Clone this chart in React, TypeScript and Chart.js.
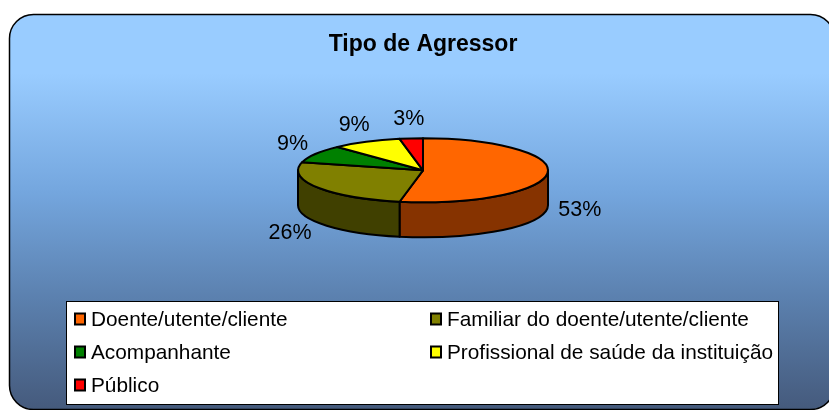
import { useEffect, useRef } from "react";
import { Chart, registerables } from "chart.js";

Chart.register(...registerables);

const chartTitle = "Tipo de Agressor";
const categories = [
  "Doente/utente/cliente",
  "Familiar do doente/utente/cliente",
  "Acompanhante",
  "Profissional de saúde da instituição",
  "Público",
];
const values = [53, 26, 9, 9, 3];
const topColors = ["#FF6600", "#808000", "#008000", "#FFFF00", "#FF0000"];
const sideColors = ["#863300", "#404000", "#004000", "#808000", "#800000"];

const FONT = '"Liberation Sans", Arial, Helvetica, sans-serif';
const TILT = 0.256;
const DEPTH = 0.28;

function roundRect(ctx: CanvasRenderingContext2D, x: number, y: number, w: number, h: number, r: number) {
  ctx.beginPath();
  ctx.moveTo(x + r, y);
  ctx.lineTo(x + w - r, y);
  ctx.arcTo(x + w, y, x + w, y + r, r);
  ctx.lineTo(x + w, y + h - r);
  ctx.arcTo(x + w, y + h, x + w - r, y + h, r);
  ctx.lineTo(x + r, y + h);
  ctx.arcTo(x, y + h, x, y + h - r, r);
  ctx.lineTo(x, y + r);
  ctx.arcTo(x, y, x + r, y, r);
  ctx.closePath();
}

const framePlugin = {
  id: "frame3d",
  beforeDraw(chart: any) {
    const ctx = chart.ctx as CanvasRenderingContext2D;
    ctx.save();
    const g = ctx.createLinearGradient(0, 14, 0, 410);
    g.addColorStop(0, "#99CCFF");
    g.addColorStop(0.15, "#99CCFF");
    g.addColorStop(0.45, "#74A6DE");
    g.addColorStop(0.72, "#5B80AE");
    g.addColorStop(1, "#455A7C");
    roundRect(ctx, 9.5, 14.5, 825, 395, 24);
    ctx.fillStyle = g;
    ctx.fill();
    ctx.lineWidth = 1.5;
    ctx.strokeStyle = "#000";
    ctx.stroke();
    ctx.restore();
  },
};

function geom(chart: any) {
  const arcs = chart.getDatasetMeta(0).data as any[];
  const a0 = arcs[0];
  const R = a0.outerRadius;
  const depth = R * DEPTH;
  const T = R * TILT;
  const cx = a0.x;
  const cy = a0.y - depth / 2;
  return { arcs, R, depth, T, cx, cy };
}

function drawLabels(chart: any) {
  const ctx = chart.ctx as CanvasRenderingContext2D;
  const { arcs, R, depth, T, cx, cy } = geom(chart);
  const data = chart.data.datasets[0].data as number[];
  const total = data.reduce((a, b) => a + b, 0);
  ctx.save();
  ctx.font = `21.5px ${FONT}`;
  ctx.fillStyle = "#000";
  ctx.textAlign = "center";
  ctx.textBaseline = "middle";
  arcs.forEach((arc: any, i: number) => {
    const m = (arc.startAngle + arc.endAngle) / 2;
    const c = Math.cos(m);
    const s = Math.sin(m);
    const ex = cx + R * c;
    const ey = cy + T * s + (s > 0 ? depth : 0);
    const txt = Math.round((data[i] / total) * 100) + "%";
    const w = ctx.measureText(txt).width;
    const gap = 9;
    const lx = ex + c * (w / 2 + gap + 2);
    const ly = ey + s * (10 + gap);
    ctx.fillText(txt, lx, ly);
  });
  ctx.restore();
}

const pie3dPlugin = {
  id: "pie3d",
  beforeDatasetsDraw(chart: any) {
    const ctx = chart.ctx as CanvasRenderingContext2D;
    const { arcs, R, depth, T, cx, cy } = geom(chart);
    ctx.save();
    ctx.lineWidth = 2;
    ctx.strokeStyle = "#000";
    ctx.lineJoin = "round";
    arcs.forEach((arc: any, i: number) => {
      const s = Math.max(arc.startAngle, 0);
      const e = Math.min(arc.endAngle, Math.PI);
      if (e > s) {
        ctx.beginPath();
        ctx.ellipse(cx, cy, R, T, 0, s, e);
        ctx.lineTo(cx + R * Math.cos(e), cy + T * Math.sin(e) + depth);
        ctx.ellipse(cx, cy + depth, R, T, 0, e, s, true);
        ctx.closePath();
        ctx.fillStyle = sideColors[i];
        ctx.fill();
        ctx.stroke();
      }
    });
    arcs.forEach((arc: any, i: number) => {
      ctx.beginPath();
      ctx.moveTo(cx, cy);
      ctx.ellipse(cx, cy, R, T, 0, arc.startAngle, arc.endAngle);
      ctx.closePath();
      ctx.fillStyle = topColors[i];
      ctx.fill();
      ctx.stroke();
    });
    ctx.restore();
    drawLabels(chart);
    return false;
  },
};

const legendPlugin = {
  id: "legendBox",
  afterDraw(chart: any) {
    const ctx = chart.ctx as CanvasRenderingContext2D;
    const labels = chart.data.labels as string[];
    ctx.save();
    ctx.fillStyle = "#fff";
    ctx.fillRect(66.5, 301.5, 712, 103);
    ctx.lineWidth = 1;
    ctx.strokeStyle = "#000";
    ctx.strokeRect(66.5, 301.5, 712, 103);
    ctx.font = `20.8px ${FONT}`;
    ctx.textAlign = "left";
    ctx.textBaseline = "middle";
    const colX = [74, 430];
    const rowY = [319, 352, 385];
    labels.forEach((lab, i) => {
      const x = colX[i % 2];
      const y = rowY[Math.floor(i / 2)];
      ctx.fillStyle = topColors[i];
      ctx.fillRect(x + 1, y - 5.5, 10, 11);
      ctx.lineWidth = 2;
      ctx.strokeStyle = "#000";
      ctx.strokeRect(x + 1, y - 5.5, 10, 11);
      ctx.fillStyle = "#000";
      ctx.fillText(lab, x + 17, y + 1);
    });
    ctx.restore();
  },
};

export default function App() {
  const ref = useRef<HTMLCanvasElement | null>(null);
  useEffect(() => {
    if (!ref.current) return;
    const chart = new Chart(ref.current, {
      type: "pie",
      data: {
        labels: categories,
        datasets: [
          {
            data: values,
            backgroundColor: topColors,
            borderWidth: 0,
          },
        ],
      },
      options: {
        responsive: false,
        animation: false,
        events: [],
        layout: { padding: { top: 20, left: 298, right: 281, bottom: 93 } },
        plugins: {
          legend: { display: false },
          tooltip: { enabled: false },
          title: {
            display: true,
            text: chartTitle,
            color: "#000",
            font: { family: FONT, size: 23, weight: "bold" },
            padding: { top: 11, bottom: 0 },
          },
        },
      },
      plugins: [framePlugin, pie3dPlugin, legendPlugin],
    } as any);
    return () => chart.destroy();
  }, []);
  return (
    <div style={{ position: "absolute", left: 0, top: 0, width: 829, height: 410 }}>
      <canvas ref={ref} width={829} height={410} style={{ display: "block" }} />
    </div>
  );
}
